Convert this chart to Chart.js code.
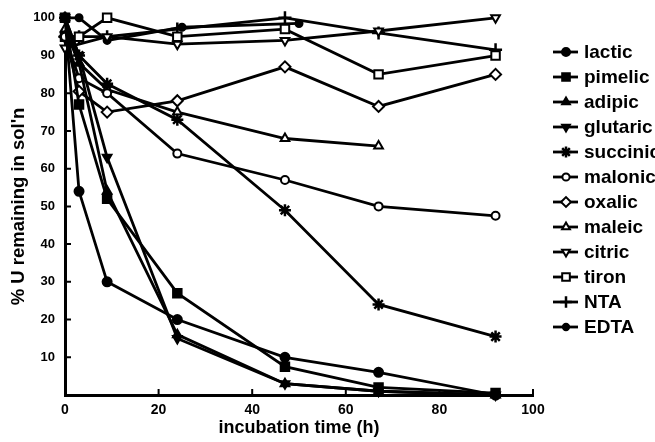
<!DOCTYPE html>
<html>
<head>
<meta charset="utf-8">
<script src="https://cdn.jsdelivr.net/npm/chart.js@4.4.0/dist/chart.umd.min.js"></script>
<style>
  html, body { margin: 0; padding: 0; background: #fff; }
  #wrap { width: 655px; height: 442px; }
</style>
</head>
<body>
<div id="wrap"><canvas id="uChart" width="655" height="442"></canvas></div>
<script>
// sampling times (h); null = no reading at that time
const hours = [0, 3, 9, 24, 47, 67, 92];
const edtaHours = [0, 3, 9, 25, 50];

const lactic   = [100, 54, 30, 20, 10, 6, 0];
const pimelic  = [100, 77, 52, 27, 7.5, 2, 0.5];
const adipic   = [100, 88, 54, 16, 3, 1, 0];
const glutaric = [100, 90, 63, 15, 3, 1, 0];
const succinic = [100, 90, 82.5, 73, 49, 24, 15.5];
const malonic  = [95, 84, 80, 64, 57, 50, 47.5];
const oxalic   = [95, 80.5, 75, 78, 87, 76.5, 85];
const maleic   = [97, 88, 81, 75, 68, 66, null];
const citric   = [92, null, 95, 93, 94, 96.5, 100];
const tiron    = [95, 95, 100, 95, 97, 85, 90];
const nta      = [95, 95, 95, 97, 100, 96, 91.5];
const edta     = [100, 100, 94, 97.5, 98.5];

const xTicks = [0, 20, 40, 60, 80, 100];
const yTicks = [10, 20, 30, 40, 50, 60, 70, 80, 90, 100];

function pts(xs, ys) {
  return xs.map((x, i) => ({ x: x, y: ys[i] })).filter(p => p.y !== null);
}

function series(label, xs, ys, style, filled, radius, rotation, markerLine) {
  return {
    label: label,
    data: pts(xs, ys),
    borderColor: "#000",
    borderWidth: 2.8,
    pointStyle: style,
    pointRotation: rotation || 0,
    pointRadius: radius,
    pointBorderWidth: markerLine || 2,
    pointBorderColor: "#000",
    pointBackgroundColor: filled ? "#000" : "#fff",
    fill: false,
    tension: 0,
    clip: false
  };
}

const datasets = [
  series("lactic", hours, lactic, "circle", true, 4.5),
  series("pimelic", hours, pimelic, "rect", true, 6),
  series("adipic", hours, adipic, "triangle", true, 5),
  series("glutaric", hours, glutaric, "triangle", true, 5, 180),
  series("succinic", hours, succinic, "star", false, 6, 0, 2.5),
  series("malonic", hours, malonic, "circle", false, 4),
  series("oxalic", hours, oxalic, "rectRot", false, 5.5),
  series("maleic", hours, maleic, "triangle", false, 5),
  series("citric", hours, citric, "triangle", false, 5, 180),
  series("tiron", hours, tiron, "rect", false, 6),
  series("NTA", hours, nta, "cross", false, 6.5, 0, 2.5),
  series("EDTA", edtaHours, edta, "circle", true, 3.5)
];

// short tick marks pointing into the plot
const innerTicks = {
  id: "innerTicks",
  afterDraw(chart) {
    const { ctx, chartArea, scales } = chart;
    ctx.save();
    ctx.strokeStyle = "#000";
    ctx.lineWidth = 2;
    ctx.beginPath();
    xTicks.forEach(v => {
      const px = scales.x.getPixelForValue(v);
      ctx.moveTo(px, chartArea.bottom);
      ctx.lineTo(px, chartArea.bottom - 6);
    });
    yTicks.forEach(v => {
      const py = scales.y.getPixelForValue(v);
      ctx.moveTo(chartArea.left, py);
      ctx.lineTo(chartArea.left + 6, py);
    });
    ctx.stroke();
    ctx.restore();
  }
};

// legend on the right: a short line with the series marker, then the name
const sideLegend = {
  id: "sideLegend",
  afterDraw(chart) {
    const ctx = chart.ctx;
    ctx.save();
    chart.data.datasets.forEach((ds, i) => {
      const y = 52 + i * 25;
      ctx.strokeStyle = "#000";
      ctx.lineWidth = 2.8;
      ctx.beginPath();
      ctx.moveTo(553, y);
      ctx.lineTo(578, y);
      ctx.stroke();
      ctx.fillStyle = ds.pointBackgroundColor;
      ctx.strokeStyle = "#000";
      ctx.lineWidth = ds.pointBorderWidth;
      Chart.helpers.drawPoint(ctx, {
        pointStyle: ds.pointStyle,
        rotation: ds.pointRotation,
        radius: ds.pointRadius * 0.9,
        borderWidth: ds.pointBorderWidth
      }, 566, y);
      ctx.fillStyle = "#000";
      ctx.font = "bold 19px 'Liberation Sans', Arial, sans-serif";
      ctx.textAlign = "left";
      ctx.textBaseline = "middle";
      ctx.fillText(ds.label, 584, y + 1);
    });
    ctx.restore();
  }
};

new Chart(document.getElementById("uChart"), {
  type: "line",
  data: { datasets: datasets },
  plugins: [innerTicks, sideLegend],
  options: {
    responsive: false,
    animation: false,
    layout: { padding: { left: 0, top: 16, right: 122, bottom: 0 } },
    plugins: {
      legend: { display: false },
      tooltip: { enabled: false }
    },
    scales: {
      x: {
        type: "linear",
        min: 0,
        max: 100,
        afterFit: s => { s.height = 47; },
        afterBuildTicks: s => { s.ticks = xTicks.map(v => ({ value: v })); },
        grid: { display: true, drawOnChartArea: false, drawTicks: false },
        border: { display: true, color: "#000", width: 3 },
        ticks: {
          color: "#000",
          padding: 7,
          font: { family: "'Liberation Sans', Arial, sans-serif", size: 14, weight: "bold" }
        },
        title: {
          display: true,
          text: "incubation time (h)",
          color: "#000",
          padding: { top: 0, bottom: 3 },
          font: { family: "'Liberation Sans', Arial, sans-serif", size: 18, weight: "bold" }
        }
      },
      y: {
        type: "linear",
        min: 0,
        max: 100,
        afterFit: s => { s.width = 65; },
        afterBuildTicks: s => { s.ticks = yTicks.map(v => ({ value: v })); },
        grid: { display: true, drawOnChartArea: false, drawTicks: false },
        border: { display: true, color: "#000", width: 3 },
        ticks: {
          color: "#000",
          padding: 10,
          font: { family: "'Liberation Sans', Arial, sans-serif", size: 13, weight: "bold" }
        },
        title: {
          display: true,
          text: "% U remaining in sol'n",
          color: "#000",
          padding: { top: 8, bottom: 0 },
          font: { family: "'Liberation Sans', Arial, sans-serif", size: 18.5, weight: "bold" }
        }
      }
    }
  }
});
</script>
</body>
</html>
